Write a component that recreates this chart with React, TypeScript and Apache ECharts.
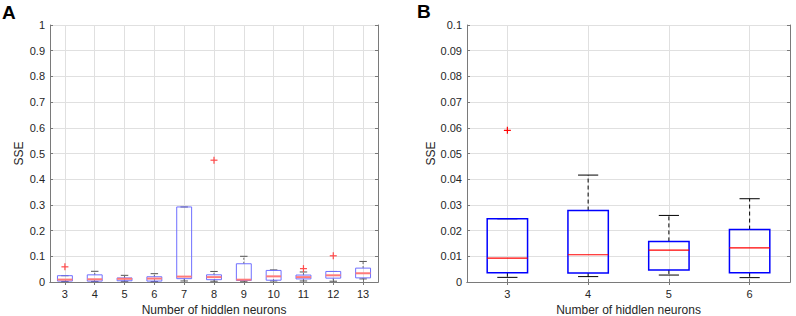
import React, { useEffect, useRef } from "react";
import * as echarts from "echarts";

// Panel A: boxplot statistics per number of hidden neurons
const catsA = ["3", "4", "5", "6", "7", "8", "9", "10", "11", "12", "13"];
const minA = [0.0018, 0.0021, 0.0027, 0.0017, 0.004, 0.003, 0.003, 0.004, 0.004, 0.003, 0.012];
const q1A = [0.0036, 0.0035, 0.0047, 0.0036, 0.013, 0.009, 0.006, 0.007, 0.012, 0.015, 0.016];
const medA = [0.0093, 0.0106, 0.0124, 0.0133, 0.021, 0.019, 0.009, 0.022, 0.019, 0.026, 0.034];
const q3A = [0.0246, 0.0278, 0.0158, 0.0204, 0.292, 0.028, 0.071, 0.045, 0.027, 0.041, 0.054];
const maxA = [0.0246, 0.0416, 0.0259, 0.0324, 0.292, 0.041, 0.1, 0.047, 0.039, 0.041, 0.08];
const outCatA = ["3", "8", "11", "12"];
const outValA = [0.059, 0.474, 0.052, 0.102];

// Panel B: zoom on 3-6 hidden neurons
const catsB = ["3", "4", "5", "6"];
const minB = [0.0018, 0.0021, 0.0027, 0.0017];
const q1B = [0.0036, 0.0035, 0.0047, 0.0036];
const medB = [0.0093, 0.0106, 0.0124, 0.0133];
const q3B = [0.0246, 0.0278, 0.0158, 0.0204];
const maxB = [0.0246, 0.0416, 0.0259, 0.0324];
const outCatB = ["3"];
const outValB = [0.059];

const FONT = "'Liberation Sans', Arial, Helvetica, sans-serif";
const TEXT = "#262626";
const FRAME = "#7a7a7a";
const GRIDC = "#e0e0e0";

type BoxStyle = {
  box: string;
  boxW: number;
  med: string;
  medW: number;
  whisk: string;
  dash: number[];
  cap: string;
};

const styleA: BoxStyle = { box: "#6f6fff", boxW: 1, med: "#ff7a7a", medW: 2, whisk: "#666666", dash: [2, 2], cap: "#555555" };
const styleB: BoxStyle = { box: "#0000ff", boxW: 1.5, med: "#ff0000", medW: 1.2, whisk: "#000000", dash: [4, 3], cap: "#000000" };

function boxRenderer(s: BoxStyle) {
  return (params: any, api: any) => {
    const idx = api.value(0);
    const vMin = api.value(1);
    const vQ1 = api.value(2);
    const vMed = api.value(3);
    const vQ3 = api.value(4);
    const vMax = api.value(5);
    const band = api.size([1, 0])[0];
    const half = band * 0.25;
    const cap = band * 0.125;
    const pMin = api.coord([idx, vMin]);
    const pQ1 = api.coord([idx, vQ1]);
    const pMed = api.coord([idx, vMed]);
    const pQ3 = api.coord([idx, vQ3]);
    const pMax = api.coord([idx, vMax]);
    const cx = pMin[0];
    return {
      type: "group",
      children: [
        { type: "line", shape: { x1: cx, y1: pQ3[1], x2: cx, y2: pMax[1] }, style: { stroke: s.whisk, lineWidth: 1, lineDash: s.dash } },
        { type: "line", shape: { x1: cx, y1: pQ1[1], x2: cx, y2: pMin[1] }, style: { stroke: s.whisk, lineWidth: 1, lineDash: s.dash } },
        { type: "line", shape: { x1: cx - cap, y1: pMax[1], x2: cx + cap, y2: pMax[1] }, style: { stroke: s.cap, lineWidth: 1 } },
        { type: "line", shape: { x1: cx - cap, y1: pMin[1], x2: cx + cap, y2: pMin[1] }, style: { stroke: s.cap, lineWidth: 1 } },
        { type: "rect", shape: { x: cx - half, y: pQ3[1], width: 2 * half, height: pQ1[1] - pQ3[1] }, style: { fill: "none", stroke: s.box, lineWidth: s.boxW } },
        { type: "line", shape: { x1: cx - half, y1: pMed[1], x2: cx + half, y2: pMed[1] }, style: { stroke: s.med, lineWidth: s.medW } },
      ],
    };
  };
}

function plusRenderer(color: string, r: number) {
  return (params: any, api: any) => {
    const p = api.coord([api.value(0), api.value(1)]);
    return {
      type: "group",
      children: [
        { type: "line", shape: { x1: p[0] - r, y1: p[1], x2: p[0] + r, y2: p[1] }, style: { stroke: color, lineWidth: 1.2 } },
        { type: "line", shape: { x1: p[0], y1: p[1] - r, x2: p[0], y2: p[1] + r }, style: { stroke: color, lineWidth: 1.2 } },
      ],
    };
  };
}

function xAxes(gridIndex: number, cats: string[]) {
  return [
    {
      gridIndex,
      type: "category",
      data: cats,
      position: "bottom",
      boundaryGap: true,
      axisLine: { show: true, lineStyle: { color: FRAME, width: 1 } },
      axisTick: { show: true, inside: true, alignWithLabel: true, length: 3, lineStyle: { color: FRAME } },
      axisLabel: { fontSize: 11, color: TEXT, margin: 6, fontFamily: FONT },
      splitLine: { show: true, alignWithLabel: true, lineStyle: { color: GRIDC, width: 1 } },
      name: "Number of hiddlen neurons",
      nameLocation: "middle",
      nameGap: 13,
      nameTextStyle: { fontSize: 12, lineHeight: 12, color: TEXT, fontFamily: FONT },
    },
    {
      gridIndex,
      type: "category",
      data: cats,
      position: "top",
      boundaryGap: true,
      axisLine: { show: true, lineStyle: { color: FRAME, width: 1 } },
      axisTick: { show: true, inside: true, alignWithLabel: true, length: 3, lineStyle: { color: FRAME } },
      axisLabel: { show: false },
      splitLine: { show: false },
    },
  ];
}

function yAxes(gridIndex: number, max: number, interval: number, digits: number, nameGap: number) {
  const fmt = (v: number) => String(Math.round(v * Math.pow(10, digits)) / Math.pow(10, digits));
  return [
    {
      gridIndex,
      type: "value",
      position: "left",
      min: 0,
      max,
      interval,
      axisLine: { show: true, lineStyle: { color: FRAME, width: 1 } },
      axisTick: { show: true, inside: true, length: 3, lineStyle: { color: FRAME } },
      axisLabel: { fontSize: 11, color: TEXT, margin: 5, fontFamily: FONT, formatter: fmt },
      splitLine: { show: true, lineStyle: { color: GRIDC, width: 1 } },
      name: "SSE",
      nameLocation: "middle",
      nameGap,
      nameRotate: 90,
      nameTextStyle: { fontSize: 12, color: TEXT, fontFamily: FONT },
    },
    {
      gridIndex,
      type: "value",
      position: "right",
      min: 0,
      max,
      interval,
      axisLine: { show: true, lineStyle: { color: FRAME, width: 1 } },
      axisTick: { show: true, inside: true, length: 3, lineStyle: { color: FRAME } },
      axisLabel: { show: false },
      splitLine: { show: false },
    },
  ];
}

export default function App() {
  const ref = useRef<HTMLDivElement>(null);

  useEffect(() => {
    document.body.style.margin = "0";
    if (!ref.current) return;
    const chart = echarts.init(ref.current, null, { renderer: "svg" });

    const boxDataA = catsA.map((c, i) => [i, minA[i], q1A[i], medA[i], q3A[i], maxA[i]]);
    const boxDataB = catsB.map((c, i) => [i, minB[i], q1B[i], medB[i], q3B[i], maxB[i]]);
    const outDataA = outCatA.map((c, i) => [catsA.indexOf(c), outValA[i]]);
    const outDataB = outCatB.map((c, i) => [catsB.indexOf(c), outValB[i]]);

    chart.setOption({
      animation: false,
      backgroundColor: "#ffffff",
      textStyle: { fontFamily: FONT },
      grid: [
        { left: 50, top: 25, width: 328, height: 257, outerBoundsMode: "none", containLabel: false, show: true, borderColor: FRAME, borderWidth: 0, backgroundColor: "#ffffff" },
        { left: 467, top: 25, width: 323, height: 257, outerBoundsMode: "none", containLabel: false, show: true, borderColor: FRAME, borderWidth: 0, backgroundColor: "#ffffff" },
      ],
      xAxis: [...xAxes(0, catsA), ...xAxes(1, catsB)],
      yAxis: [...yAxes(0, 1, 0.1, 2, 25), ...yAxes(1, 0.1, 0.01, 3, 28)],
      graphic: [
        { type: "text", left: 2, top: 3, style: { text: "A", fontSize: 19, fontWeight: "bold", fontFamily: FONT, fill: "#000" } },
        { type: "text", left: 417, top: 2, style: { text: "B", fontSize: 19, fontWeight: "bold", fontFamily: FONT, fill: "#000" } },
      ],
      series: [
        {
          type: "custom",
          xAxisIndex: 0,
          yAxisIndex: 0,
          data: boxDataA,
          encode: { x: 0, y: [1, 2, 3, 4, 5] },
          renderItem: boxRenderer(styleA),
          z: 3,
        },
        {
          type: "custom",
          xAxisIndex: 0,
          yAxisIndex: 0,
          data: outDataA,
          encode: { x: 0, y: 1 },
          renderItem: plusRenderer("#ff4a4a", 3.5),
          z: 4,
        },
        {
          type: "custom",
          xAxisIndex: 2,
          yAxisIndex: 2,
          data: boxDataB,
          encode: { x: 0, y: [1, 2, 3, 4, 5] },
          renderItem: boxRenderer(styleB),
          z: 3,
        },
        {
          type: "custom",
          xAxisIndex: 2,
          yAxisIndex: 2,
          data: outDataB,
          encode: { x: 0, y: 1 },
          renderItem: plusRenderer("#ff0000", 3.5),
          z: 4,
        },
      ],
    });

    return () => {
      chart.dispose();
    };
  }, []);

  return <div ref={ref} style={{ width: 796, height: 316 }} />;
}
